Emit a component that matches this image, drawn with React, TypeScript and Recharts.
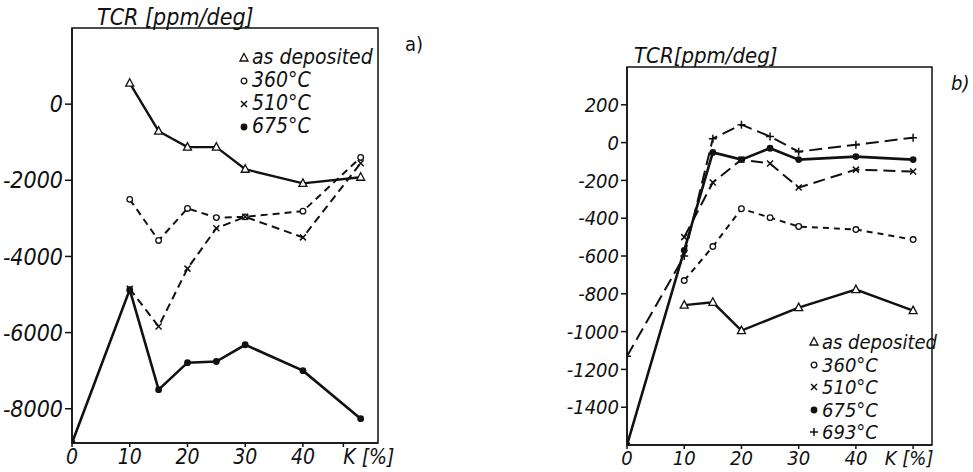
import React from "react";
import { LineChart, Line, XAxis, YAxis, ReferenceArea } from "recharts";

// K [%] positions shared by both panels
const kValues = [0, 10, 15, 20, 25, 30, 40, 50];

// panel a) TCR [ppm/deg]
const aAsDeposited = [null, 550, -710, -1130, -1130, -1710, -2080, -1920];
const a360 = [null, -2500, -3580, -2740, -2980, -2960, -2810, -1400];
const a510 = [null, -4850, -5840, -4320, -3260, -2960, -3500, -1550];
const a675 = [-8900, -4870, -7500, -6790, -6760, -6320, -7000, -8260];

// panel b) TCR [ppm/deg]
const bAsDeposited = [null, -860, -845, -995, null, -873, -778, -889];
const b360 = [null, -730, -550, -350, -397, -444, -460, -513];
const b510 = [null, -500, -211, -90, -111, -238, -143, -153];
const b675 = [-1600, -570, -52, -90, -30, -90, -74, -90];
const b693 = [-1130, -600, 21, 95, 32, -48, -11, 26];

const aYTicks = [-8000, -6000, -4000, -2000, 0];
const aXTicks = [0, 10, 20, 30, 40, 47];
const bYTicks = [-1400, -1200, -1000, -800, -600, -400, -200, 0, 200];
const bXTicks = [0, 10, 20, 30, 40, 50];

const legendA = ["as deposited", "360°C", "510°C", "675°C"];
const legendB = ["as deposited", "360°C", "510°C", "675°C", "693°C"];

const INK = "#111";
const FONT = "'DejaVu Sans Condensed', 'DejaVu Sans', sans-serif";

const dataA = kValues.map((k, i) => ({ k, asDep: aAsDeposited[i], t360: a360[i], t510: a510[i], t675: a675[i] }));
const dataB = kValues.map((k, i) => ({ k, asDep: bAsDeposited[i], t360: b360[i], t510: b510[i], t675: b675[i], t693: b693[i] }));

type Shape = "tri" | "circle" | "cross" | "dot" | "plus";

function marker(shape: Shape, cx: number, cy: number, key?: any) {
  if (shape === "tri")
    return <path key={key} d={`M${cx},${cy - 4.5}L${cx + 4},${cy + 3}L${cx - 4},${cy + 3}Z`} fill="#fff" stroke={INK} strokeWidth={1.3} />;
  if (shape === "circle") return <circle key={key} cx={cx} cy={cy} r={2.8} fill="#fff" stroke={INK} strokeWidth={1.3} />;
  if (shape === "dot") return <circle key={key} cx={cx} cy={cy} r={3.4} fill={INK} />;
  if (shape === "cross")
    return (
      <path key={key} d={`M${cx - 3},${cy - 3}L${cx + 3},${cy + 3}M${cx + 3},${cy - 3}L${cx - 3},${cy + 3}`} stroke={INK} strokeWidth={1.5} />
    );
  return <path key={key} d={`M${cx - 4},${cy}L${cx + 4},${cy}M${cx},${cy - 4}L${cx},${cy + 4}`} stroke={INK} strokeWidth={1.5} />;
}

const dotFor = (shape: Shape) => (p: any) => {
  if (p.cx == null || p.cy == null || p.value == null) return <g key={p.index} />;
  return marker(shape, p.cx, p.cy, p.index);
};

const tickStyle = (size: number) => ({ fill: INK, fontSize: size, fontFamily: FONT, fontStyle: "italic" as const });

// x tick: the last tick carries the "K [%]" axis name
const xTick = (kTick: number, size: number, anchor: "start" | "middle", dx: number) => (p: any) => {
  const v = p.payload.value;
  const isK = v === kTick;
  return (
    <text
      x={p.x + (isK ? dx : 0)}
      y={p.y}
      dy="0.71em"
      textAnchor={isK ? anchor : "middle"}
      fill={INK}
      fontSize={size}
      fontFamily={FONT}
      fontStyle="italic"
    >
      {isK ? "K [%]" : String(v)}
    </text>
  );
};

function Legend({ items, shapes, left, top, rowH, size }: { items: string[]; shapes: Shape[]; left: number; top: number; rowH: number; size: number }) {
  return (
    <div style={{ position: "absolute", left, top, fontFamily: FONT, fontStyle: "italic", fontSize: size, color: INK, lineHeight: `${rowH}px` }}>
      {items.map((name, i) => (
        <div key={name} style={{ display: "flex", alignItems: "center", whiteSpace: "nowrap" }}>
          <svg width={12} height={12} style={{ marginRight: 2 }}>
            {marker(shapes[i], 6, 6)}
          </svg>
          {name}
        </div>
      ))}
    </div>
  );
}

export default function App() {
  return (
    <div style={{ position: "absolute", left: 0, top: 0, width: 973, height: 472, background: "#fff", overflow: "hidden" }}>
      {/* panel a */}
      <div style={{ position: "absolute", left: 0, top: 0 }}>
        <LineChart width={400} height={472} data={dataA} margin={{ top: 28, right: 22, left: 0, bottom: 4 }}>
          <XAxis
            dataKey="k"
            type="number"
            domain={[0, 53]}
            ticks={aXTicks}
            allowDataOverflow
            height={25}
            tick={xTick(47, 21, "start", 0)}
            tickSize={4}
            stroke={INK}
            strokeWidth={1.5}
          />
          <YAxis
            type="number"
            domain={[-8900, 2000]}
            ticks={aYTicks}
            allowDataOverflow
            width={72}
            tick={tickStyle(23)}
            tickSize={7}
            stroke={INK}
            strokeWidth={1.5}
          />
          <ReferenceArea x1={0} x2={53} y1={-8900} y2={2000} fill="none" stroke={INK} strokeWidth={1.5} />
          <Line dataKey="asDep" stroke={INK} strokeWidth={2.4} dot={dotFor("tri")} connectNulls isAnimationActive={false} />
          <Line dataKey="t360" stroke={INK} strokeWidth={2} strokeDasharray="7 5" dot={dotFor("circle")} connectNulls isAnimationActive={false} />
          <Line dataKey="t510" stroke={INK} strokeWidth={2} strokeDasharray="8 5" dot={dotFor("cross")} connectNulls isAnimationActive={false} />
          <Line dataKey="t675" stroke={INK} strokeWidth={2.6} dot={dotFor("dot")} connectNulls isAnimationActive={false} />
        </LineChart>
      </div>
      <div style={{ position: "absolute", left: 97, top: 4, fontFamily: FONT, fontStyle: "italic", fontSize: 23, color: INK }}>TCR [ppm/deg]</div>
      <div style={{ position: "absolute", left: 405, top: 32, fontFamily: FONT, fontSize: 20, color: INK }}>a)</div>
      <Legend items={legendA} shapes={["tri", "circle", "cross", "dot"]} left={238} top={46} rowH={23} size={21} />

      {/* panel b */}
      <div style={{ position: "absolute", left: 540, top: 0 }}>
        <LineChart width={433} height={472} data={dataB} margin={{ top: 67, right: 41, left: 0, bottom: 2 }}>
          <XAxis
            dataKey="k"
            type="number"
            domain={[0, 53.3]}
            ticks={bXTicks}
            allowDataOverflow
            height={25}
            tick={xTick(50, 20, "middle", -4)}
            tickSize={4}
            stroke={INK}
            strokeWidth={1.5}
          />
          <YAxis
            type="number"
            domain={[-1600, 400]}
            ticks={bYTicks}
            allowDataOverflow
            width={87}
            tick={tickStyle(20)}
            tickSize={6}
            stroke={INK}
            strokeWidth={1.5}
          />
          <ReferenceArea x1={0} x2={53.3} y1={-1600} y2={400} fill="none" stroke={INK} strokeWidth={1.5} />
          <Line dataKey="asDep" stroke={INK} strokeWidth={2.4} dot={dotFor("tri")} connectNulls isAnimationActive={false} />
          <Line dataKey="t360" stroke={INK} strokeWidth={2} strokeDasharray="6 5" dot={dotFor("circle")} connectNulls isAnimationActive={false} />
          <Line dataKey="t510" stroke={INK} strokeWidth={2} strokeDasharray="12 6" dot={dotFor("cross")} connectNulls isAnimationActive={false} />
          <Line dataKey="t675" stroke={INK} strokeWidth={2.6} dot={dotFor("dot")} connectNulls isAnimationActive={false} />
          <Line dataKey="t693" stroke={INK} strokeWidth={2} strokeDasharray="13 6" dot={dotFor("plus")} connectNulls isAnimationActive={false} />
        </LineChart>
      </div>
      <div style={{ position: "absolute", left: 634, top: 43, fontFamily: FONT, fontStyle: "italic", fontSize: 22, color: INK }}>TCR[ppm/deg]</div>
      <div style={{ position: "absolute", left: 951, top: 71, fontFamily: FONT, fontStyle: "italic", fontSize: 20, color: INK }}>b)</div>
      <Legend items={legendB} shapes={["tri", "circle", "cross", "dot", "plus"]} left={808} top={331} rowH={22.5} size={20} />
    </div>
  );
}
